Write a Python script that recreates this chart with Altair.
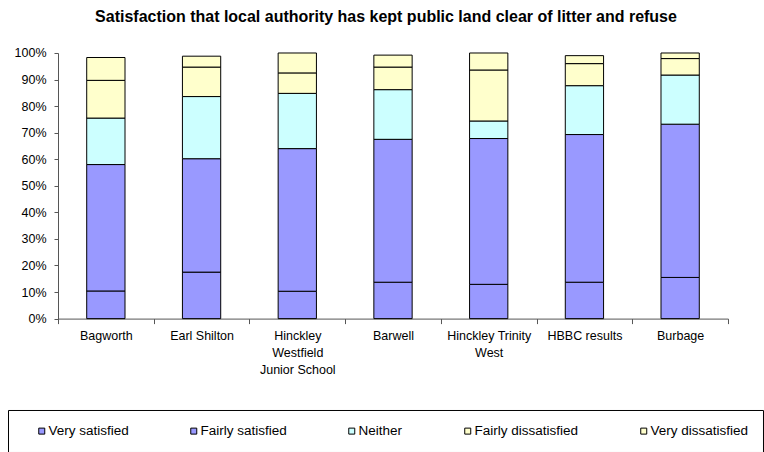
import altair as alt
import pandas as pd

# Survey sites (line breaks mark where the axis labels wrap)
sites = [
    "Bagworth",
    "Earl Shilton",
    "Hinckley\nWestfield\nJunior School",
    "Barwell",
    "Hinckley Trinity\nWest",
    "HBBC results",
    "Burbage",
]

responses = [
    "Very satisfied",
    "Fairly satisfied",
    "Neither",
    "Fairly dissatisfied",
    "Very dissatisfied",
]

# Share of respondents (%) per site for each response
very_satisfied = [10.4, 17.5, 10.3, 13.7, 12.9, 13.7, 15.5]
fairly_satisfied = [47.6, 42.7, 53.7, 53.8, 54.9, 55.6, 57.7]
neither = [17.5, 23.4, 20.8, 18.7, 6.6, 18.4, 18.5]
fairly_dissatisfied = [14.2, 11.1, 7.7, 8.5, 19.2, 8.3, 6.2]
very_dissatisfied = [8.6, 4.1, 7.5, 4.5, 6.4, 3.0, 2.1]

colors = ["#9999FF", "#9999FF", "#CCFFFF", "#FFFFCC", "#FFFFCC"]

series = [very_satisfied, fairly_satisfied, neither, fairly_dissatisfied, very_dissatisfied]
rows = []
for k, (name, vals) in enumerate(zip(responses, series)):
    for site, v in zip(sites, vals):
        rows.append({"site": site, "response": name, "order": k, "pct": v})
df = pd.DataFrame(rows)

FONT = "Liberation Sans"

chart = (
    alt.Chart(df)
    .mark_bar(stroke="black", strokeWidth=1, width={"band": 0.4})
    .encode(
        x=alt.X(
            "site:N",
            sort=sites,
            scale=alt.Scale(paddingInner=0, paddingOuter=0),
            axis=alt.Axis(
                title=None,
                labelAngle=0,
                labelExpr="split(datum.label, '\\n')",
                labelFont=FONT,
                labelFontSize=12.5,
                labelColor="black",
                labelPadding=6,
                labelLineHeight=17,
                labelLimit=200,
                tickBand="extent",
                tickSize=5,
                tickColor="#555555",
                domainColor="#555555",
                grid=False,
            ),
        ),
        y=alt.Y(
            "pct:Q",
            stack="zero",
            scale=alt.Scale(domain=[0, 100], nice=False),
            axis=alt.Axis(
                title=None,
                values=list(range(0, 101, 10)),
                labelExpr="datum.value + '%'",
                labelFont=FONT,
                labelFontSize=12.5,
                labelColor="black",
                labelPadding=8,
                tickSize=4,
                tickColor="#555555",
                domainColor="#555555",
                grid=False,
            ),
        ),
        color=alt.Color(
            "response:N",
            scale=alt.Scale(domain=responses, range=colors),
            legend=alt.Legend(
                title=None,
                orient="none",
                legendX=-50,
                legendY=357,
                direction="horizontal",
                columns=5,
                gridAlign="each",
                columnPadding=45,
                symbolType="square",
                symbolSize=36,
                symbolStrokeColor="black",
                symbolStrokeWidth=1,
                symbolOpacity=1,
                symbolOffset=13,
                labelOffset=0,
                labelFont=FONT,
                labelFontSize=13.5,
                labelColor="black",
                strokeColor="black",
                fillColor="white",
                padding=14,
            ),
        ),
        order=alt.Order("order:Q"),
    )
    .properties(
        width=670,
        height=265.6,
        padding={"left": 58, "top": 53, "right": 36, "bottom": 133},
        autosize=alt.AutoSizeParams(type="none"),
        title=alt.Title(
            "Satisfaction that local authority has kept public land clear of litter and refuse",
            font=FONT,
            fontSize=16,
            fontWeight="bold",
            color="black",
            anchor="middle",
            offset=22,
            dx=-7,
        ),
    )
    .configure_view(stroke=None)
)

chart.save("out.html", embed_options={"renderer": "svg", "actions": False})
